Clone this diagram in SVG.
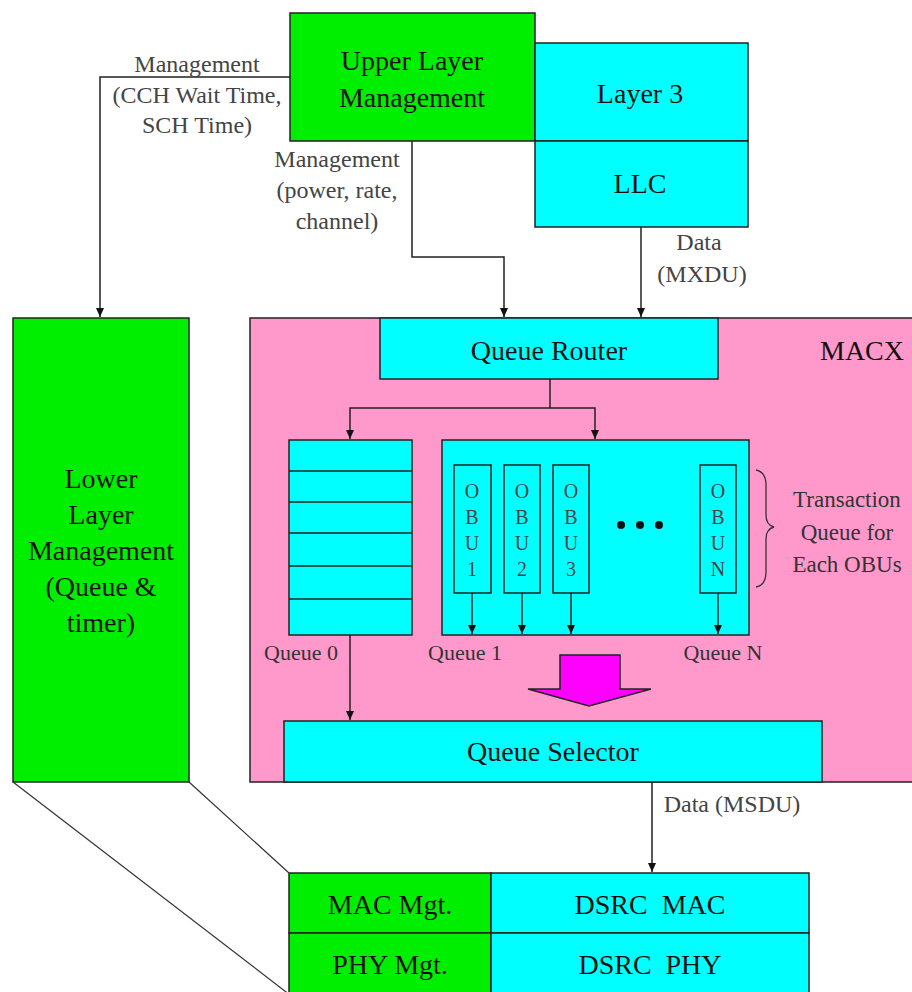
<svg xmlns="http://www.w3.org/2000/svg" width="912" height="992" viewBox="0 0 912 992">
<style>
.box{stroke:#222;stroke-width:1.5}
.g{fill:#00EE00}
.c{fill:#00FFFF}
.p{fill:#FF99CC}
.t{font-family:"Liberation Serif","Times New Roman",serif;font-size:28px;fill:#111;text-anchor:middle}
.l{font-family:"Liberation Serif","Times New Roman",serif;font-size:24px;fill:#444;text-anchor:middle}
.s{font-family:"Liberation Serif","Times New Roman",serif;font-size:22px;fill:#333;text-anchor:middle}
.o{font-family:"Liberation Serif","Times New Roman",serif;font-size:20px;fill:#444;text-anchor:middle}
.ln{fill:none;stroke:#222;stroke-width:1.5}
</style>
<defs>
<marker id="ah" markerWidth="10" markerHeight="10" refX="9" refY="5" orient="auto" markerUnits="userSpaceOnUse">
<path d="M0,1 L9,5 L0,9 Z" fill="#111"/>
</marker>
</defs>
<rect width="912" height="992" fill="#fff"/>

<g id="macx">
<rect class="box p" x="250" y="318" width="680" height="464"/>
<text class="t" x="862" y="360">MACX</text>
</g>

<g id="upper-layer-management">
<rect class="box g" x="290" y="13" width="245" height="128"/>
<text class="t" x="412" y="70">Upper Layer</text>
<text class="t" x="412" y="107">Management</text>
</g>

<g id="layer3">
<rect class="box c" x="535" y="43" width="213" height="98"/>
<text class="t" x="640" y="103">Layer 3</text>
</g>

<g id="llc">
<rect class="box c" x="535" y="141" width="213" height="86"/>
<text class="t" x="640" y="193">LLC</text>
</g>

<g id="lower-layer-management">
<rect class="box g" x="13" y="318" width="176" height="464"/>
<text class="t" x="101" y="488">Lower</text>
<text class="t" x="101" y="524">Layer</text>
<text class="t" x="101" y="560">Management</text>
<text class="t" x="101" y="596">(Queue &amp;</text>
<text class="t" x="101" y="632">timer)</text>
</g>

<g id="queue-router">
<rect class="box c" x="380" y="318" width="338" height="61"/>
<text class="t" x="549" y="360">Queue Router</text>
</g>

<g id="queue0">
<rect class="box c" x="289" y="440" width="123" height="195"/>
<path class="ln" d="M289,471H412M289,502H412M289,533H412M289,566H412M289,599H412"/>
<text class="s" x="301" y="660">Queue 0</text>
</g>

<g id="obu-queues">
<rect class="box c" x="442" y="440" width="307" height="195"/>
<rect class="box c" x="454" y="465" width="37" height="128"/>
<rect class="box c" x="504" y="465" width="36" height="128"/>
<rect class="box c" x="553" y="465" width="36" height="128"/>
<rect class="box c" x="700" y="465" width="36" height="128"/>
<text class="o" x="472" y="498">O</text><text class="o" x="472" y="524">B</text><text class="o" x="472" y="550">U</text><text class="o" x="472" y="576">1</text>
<text class="o" x="522" y="498">O</text><text class="o" x="522" y="524">B</text><text class="o" x="522" y="550">U</text><text class="o" x="522" y="576">2</text>
<text class="o" x="571" y="498">O</text><text class="o" x="571" y="524">B</text><text class="o" x="571" y="550">U</text><text class="o" x="571" y="576">3</text>
<text class="o" x="718" y="498">O</text><text class="o" x="718" y="524">B</text><text class="o" x="718" y="550">U</text><text class="o" x="718" y="576">N</text>
<circle cx="621" cy="525" r="4" fill="#111"/>
<circle cx="640" cy="525" r="4" fill="#111"/>
<circle cx="659" cy="525" r="4" fill="#111"/>
<text class="s" x="465" y="660">Queue 1</text>
<text class="s" x="723" y="660">Queue N</text>
</g>

<g id="brace-label">
<path d="M756,470 Q766,472 766,485 V515 Q766,525 774,527 Q766,529 766,539 V572 Q766,585 756,587" fill="none" stroke="#333" stroke-width="1.3"/>
<text class="s" x="847" y="507" style="font-size:23px">Transaction</text>
<text class="s" x="847" y="540" style="font-size:23px">Queue for</text>
<text class="s" x="847" y="572" style="font-size:23px">Each OBUs</text>
</g>

<g id="big-arrow">
<path d="M560,655 H620 V689 H651 L589,706 L528,689 H560 Z" fill="#FF00FF" stroke="#222" stroke-width="1.5"/>
</g>

<g id="queue-selector">
<rect class="box c" x="284" y="721" width="538" height="61"/>
<text class="t" x="553" y="761">Queue Selector</text>
</g>

<g id="mac-mgt">
<rect class="box g" x="289" y="873" width="202" height="60"/>
<text class="t" x="390" y="914">MAC Mgt.</text>
</g>
<g id="phy-mgt">
<rect class="box g" x="289" y="933" width="202" height="70"/>
<text class="t" x="390" y="974">PHY Mgt.</text>
</g>
<g id="dsrc-mac">
<rect class="box c" x="491" y="873" width="318" height="60"/>
<text class="t" x="650" y="914" xml:space="preserve">DSRC  MAC</text>
</g>
<g id="dsrc-phy">
<rect class="box c" x="491" y="933" width="318" height="70"/>
<text class="t" x="650" y="974" xml:space="preserve">DSRC  PHY</text>
</g>

<g id="connectors">
<path class="ln" d="M290,77 H100 V317" marker-end="url(#ah)"/>
<path class="ln" d="M412,141 V257 H504 V317" marker-end="url(#ah)"/>
<path class="ln" d="M641,227 V317" marker-end="url(#ah)"/>
<path class="ln" d="M550,379 V408"/>
<path class="ln" d="M550,408 H350 V439" marker-end="url(#ah)"/>
<path class="ln" d="M550,408 H595 V439" marker-end="url(#ah)"/>
<path class="ln" d="M472,593 V634" marker-end="url(#ah)"/>
<path class="ln" d="M522,593 V634" marker-end="url(#ah)"/>
<path class="ln" d="M571,593 V634" marker-end="url(#ah)"/>
<path class="ln" d="M718,593 V634" marker-end="url(#ah)"/>
<path class="ln" d="M350,635 V720" marker-end="url(#ah)"/>
<path class="ln" d="M652,782 V872" marker-end="url(#ah)"/>
<path d="M13,782 L290,995 M189,782 L289,873" fill="none" stroke="#333" stroke-width="1.2"/>
</g>

<g id="labels">
<text class="l" x="197" y="72">Management</text>
<text class="l" x="197" y="103">(CCH Wait Time,</text>
<text class="l" x="197" y="133">SCH Time)</text>
<text class="l" x="337" y="167">Management</text>
<text class="l" x="337" y="198">(power, rate,</text>
<text class="l" x="337" y="229">channel)</text>
<text class="l" x="699" y="250">Data</text>
<text class="l" x="702" y="282">(MXDU)</text>
<text class="l" x="732" y="812">Data (MSDU)</text>
</g>
</svg>
